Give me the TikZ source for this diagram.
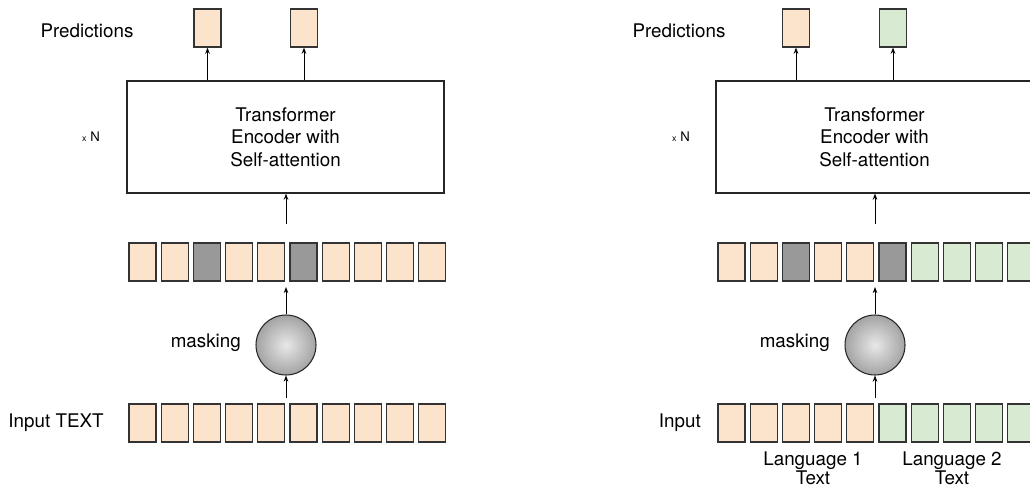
\documentclass[tikz,border=0pt]{standalone}
\usepackage{fontspec}
\setmainfont{TeX Gyre Heros}
\usetikzlibrary{arrows.meta}

\definecolor{peach}{RGB}{252,228,204}
\definecolor{mint}{RGB}{217,234,211}
\definecolor{maskgrey}{RGB}{153,153,153}

\tikzset{
  tok/.style={draw=black!80, line width=0.7pt, minimum width=0.54cm, minimum height=0.76cm, inner sep=0pt},
  enc/.style={draw=black!85, line width=0.7pt, minimum width=6.34cm, minimum height=2.24cm, align=center, font=\fontsize{10.7}{12.8}\selectfont},
  lbl/.style={font=\fontsize{10.7}{12.8}\selectfont},
  maskball/.style={circle, draw=black!85, line width=0.6pt, minimum size=1.2cm, inner color=black!9, outer color=black!36},
  arr/.style={-{Stealth[length=3.5pt,width=2.6pt]}, line width=0.5pt}
}

\begin{document}
\begin{tikzpicture}[x=0.02cm,y=-0.02cm]
\useasboundingbox (0,0) rectangle (1030,490);
\clip (0,0) rectangle (1030,490);

% left: one text
\node[lbl] (predL) at (87,31) {Predictions};
\node[tok, fill=peach] (pL1) at (207.5,28) {};
\node[tok, fill=peach] (pL2) at (304,28) {};
\node[enc] (encL) at (285.5,137) {Transformer\\Encoder with\\Self-attention};
\node[font=\fontsize{7.5}{8}\selectfont] (nL) at (91,137) {{\fontsize{5}{5}\selectfont x} N};
\foreach \c [count=\i from 0] in {peach,peach,maskgrey,peach,peach,maskgrey,peach,peach,peach,peach}
  \node[tok, fill=\c] (mL\i) at (142.5+32.2*\i,262) {};
\node[maskball] (ballL) at (286,345) {};
\node[lbl, anchor=east] (maskL) at (247,343) {masking};
\foreach \i in {0,...,9}
  \node[tok, fill=peach] (xL\i) at (142.5+32.2*\i,423) {};
\node[lbl] (inL) at (56,423) {Input TEXT};

\coordinate (eL) at (286,224);
\coordinate (tL) at (286,287);
\coordinate (cL) at (286,398);
\draw[arr] (pL1 |- encL.north) -- (pL1.south);
\draw[arr] (pL2 |- encL.north) -- (pL2.south);
\draw[arr] (eL) -- (eL |- encL.south);
\draw[arr] (ballL) -- (tL);
\draw[arr] (cL) -- (ballL);

% right: two languages
\node[lbl] (predR) at (679,31) {Predictions};
\node[tok, fill=peach] (pR1) at (796,28) {};
\node[tok, fill=mint] (pR2) at (893,28) {};
\node[enc] (encR) at (874.5,137) {Transformer\\Encoder with\\Self-attention};
\node[font=\fontsize{7.5}{8}\selectfont] (nR) at (681,137) {{\fontsize{5}{5}\selectfont x} N};
\foreach \c [count=\i from 0] in {peach,peach,maskgrey,peach,peach,maskgrey,mint,mint,mint,mint}
  \node[tok, fill=\c] (mR\i) at (731.5+32.2*\i,262) {};
\node[maskball] (ballR) at (875,345) {};
\node[lbl, anchor=east] (maskR) at (836,343) {masking};
\foreach \c [count=\i from 0] in {peach,peach,peach,peach,peach,mint,mint,mint,mint,mint}
  \node[tok, fill=\c] (xR\i) at (731.5+32.2*\i,423) {};
\node[lbl, anchor=east] (inR) at (707,423) {Input};
\node[lbl, align=center, font=\fontsize{10.7}{11}\selectfont] (lang1) at (813,468) {Language 1\\Text};
\node[lbl, align=center, font=\fontsize{10.7}{11}\selectfont] (lang2) at (952,468) {Language 2\\Text};

\coordinate (eR) at (875,224);
\coordinate (tR) at (875,287);
\coordinate (cR) at (875,398);
\draw[arr] (pR1 |- encR.north) -- (pR1.south);
\draw[arr] (pR2 |- encR.north) -- (pR2.south);
\draw[arr] (eR) -- (eR |- encR.south);
\draw[arr] (ballR) -- (tR);
\draw[arr] (cR) -- (ballR);
\end{tikzpicture}
\end{document}
